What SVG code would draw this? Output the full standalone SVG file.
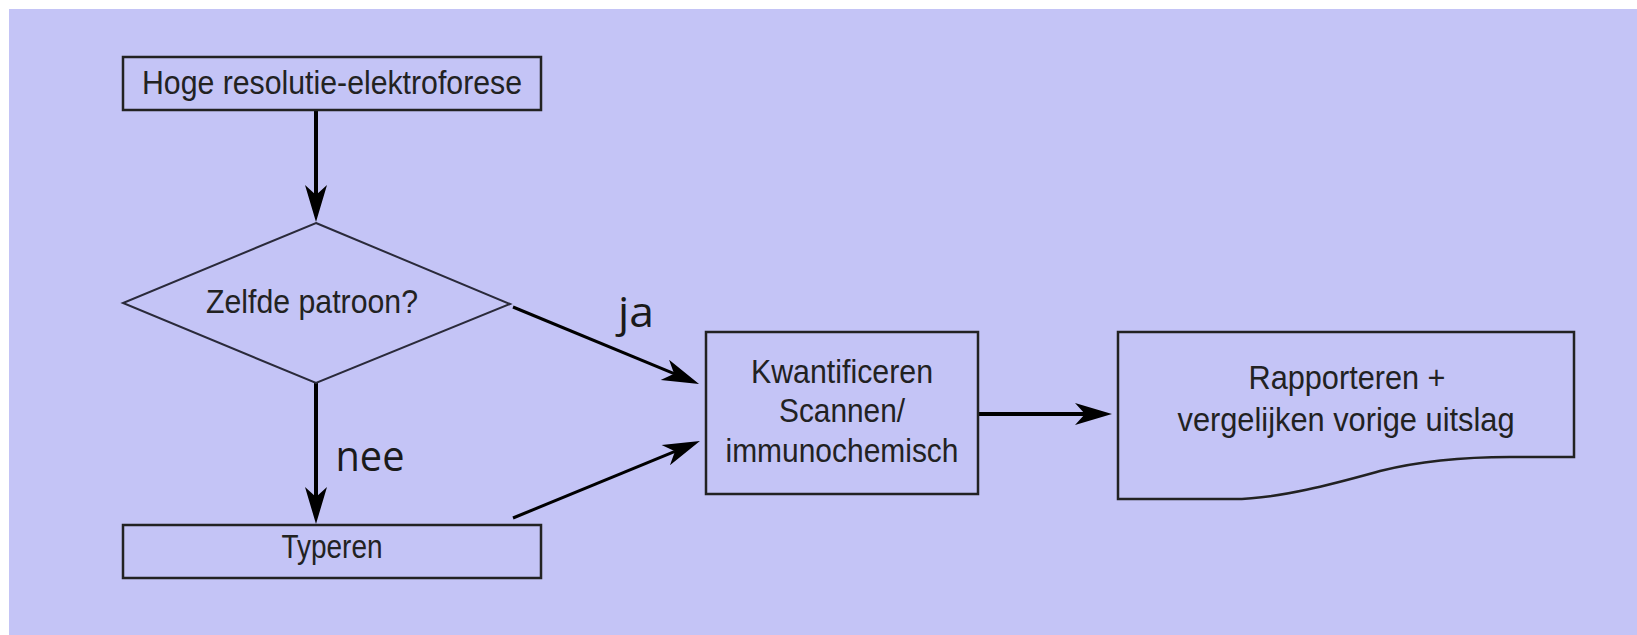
<svg xmlns="http://www.w3.org/2000/svg" width="1637" height="635" viewBox="0 0 1637 635">
<style>
.box{fill:none;stroke:#222;stroke-width:2.5}
.dia{fill:none;stroke:#2a2a3a;stroke-width:2}
.t{font-family:"Liberation Sans",Arial,sans-serif;font-size:34px;fill:#222;text-anchor:middle}
.lbl{font-family:"Open Sans","Liberation Sans",sans-serif;font-size:42px;fill:#1a1a1a;text-anchor:middle}
.c{fill:none;stroke:#000;stroke-width:4}
.c2{fill:none;stroke:#000;stroke-width:3}
</style>
<defs>
<marker id="ah" markerUnits="userSpaceOnUse" markerWidth="42" markerHeight="28" viewBox="-40 -14 42 28" refX="-27" refY="0" orient="auto">
<path d="M0,0 L-37,-11 L-27,0 L-37,11 Z" fill="#000"/>
</marker>
</defs>
<rect x="0" y="0" width="1637" height="635" fill="#ffffff"/>
<rect x="9" y="9" width="1628" height="626" fill="#c4c4f6"/>

<g id="connectors">
<line class="c" x1="316" y1="110" x2="316" y2="195" marker-end="url(#ah)"/>
<line class="c" x1="316" y1="383" x2="316" y2="497" marker-end="url(#ah)"/>
<line class="c2" x1="513" y1="307" x2="674.1" y2="373.7" marker-end="url(#ah)"/>
<line class="c2" x1="513" y1="518" x2="675" y2="451.3" marker-end="url(#ah)"/>
<line class="c" x1="978" y1="414" x2="1085" y2="414" marker-end="url(#ah)"/>
<text class="lbl" x="636" y="327" textLength="36" lengthAdjust="spacingAndGlyphs">ja</text>
<text class="lbl" x="370" y="471" textLength="69" lengthAdjust="spacingAndGlyphs">nee</text>
</g>

<g id="node-start">
<rect class="box" x="123" y="57" width="418" height="53"/>
<text class="t" x="332" y="94" textLength="380" lengthAdjust="spacingAndGlyphs">Hoge resolutie-elektroforese</text>
</g>

<g id="node-decision">
<polygon class="dia" points="316,223 510,304 316,383 123,303"/>
<text class="t" x="312" y="313" textLength="212" lengthAdjust="spacingAndGlyphs">Zelfde patroon?</text>
</g>

<g id="node-typeren">
<rect class="box" x="123" y="525" width="418" height="53"/>
<text class="t" x="332" y="558" textLength="101" lengthAdjust="spacingAndGlyphs">Typeren</text>
</g>

<g id="node-kwantificeren">
<rect class="box" x="706" y="332" width="272" height="162"/>
<text class="t" x="842" y="383" textLength="182" lengthAdjust="spacingAndGlyphs">Kwantificeren</text>
<text class="t" x="842" y="422" textLength="126" lengthAdjust="spacingAndGlyphs">Scannen/</text>
<text class="t" x="842" y="462" textLength="233" lengthAdjust="spacingAndGlyphs">immunochemisch</text>
</g>

<g id="node-rapporteren">
<path class="box" d="M1118,332 H1574 V457 H1510 C1470,457 1420,461 1380,471 C1340,482 1280,499 1233,499 H1118 Z"/>
<text class="t" x="1347" y="389" textLength="197" lengthAdjust="spacingAndGlyphs">Rapporteren +</text>
<text class="t" x="1346" y="431" textLength="337" lengthAdjust="spacingAndGlyphs">vergelijken vorige uitslag</text>
</g>
</svg>
